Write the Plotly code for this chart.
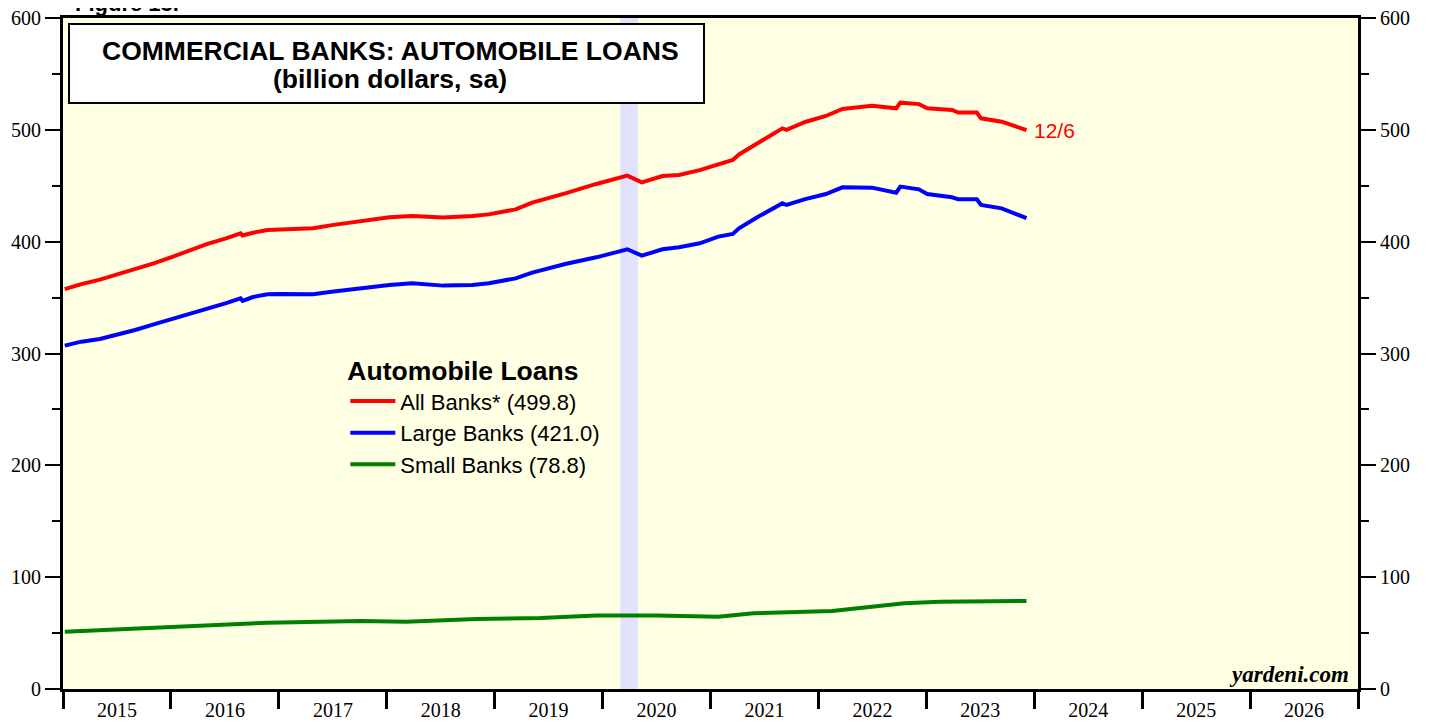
import plotly.graph_objects as go

# ---------------- data ----------------
all_dates = ["2015-01-07","2015-03-04","2015-05-06","2015-07-01","2015-09-02","2015-11-04",
             "2016-01-06","2016-03-02","2016-05-04","2016-07-06","2016-08-24","2016-08-31",
             "2016-10-05","2016-11-23","2017-01-04","2017-04-05","2017-04-26","2017-07-05",
             "2017-10-04","2018-01-10","2018-03-28","2018-07-11","2018-10-17","2018-12-12",
             "2019-03-13","2019-05-08","2019-08-28","2019-12-11","2020-03-25","2020-05-13",
             "2020-07-22","2020-09-16","2020-11-25","2021-01-27","2021-03-17","2021-04-07",
             "2021-06-09","2021-09-01","2021-09-15","2021-11-17","2022-01-26","2022-03-23",
             "2022-07-01","2022-09-21","2022-10-05","2022-12-07","2023-01-04","2023-03-29",
             "2023-04-19","2023-06-21","2023-07-05","2023-09-13","2023-12-06"]

all_banks = [357.5, 362.0, 366.0, 370.5, 375.0, 380.5,
             386.5, 392.0, 398.0, 403.0, 407.5, 405.5,
             408.0, 410.4, 411.0, 412.5, 412.0, 415.0,
             418.5, 421.8, 423.0, 421.5, 423.0, 424.4,
             428.9, 434.9, 443.2, 451.6, 459.0, 453.0,
             458.7, 459.6, 464.0, 469.5, 473.0, 478.0,
             488.0, 501.3, 500.0, 507.0, 512.4, 518.7,
             521.6, 519.2, 524.3, 523.0, 519.2, 517.8,
             515.4, 515.4, 510.3, 507.3, 499.8]

large_banks = [307.0, 310.6, 313.0, 316.5, 321.0, 326.0,
               330.8, 335.0, 340.0, 345.0, 349.4, 347.0,
               350.5, 353.0, 353.2, 353.5, 353.0, 355.5,
               358.5, 361.3, 362.8, 360.7, 361.3, 362.8,
               367.2, 372.3, 380.0, 386.0, 393.2, 387.5,
               393.2, 395.0, 398.5, 404.5, 406.9, 411.9,
               422.0, 434.3, 432.8, 438.0, 442.6, 448.6,
               448.3, 443.8, 449.2, 446.8, 442.6, 439.7,
               437.9, 437.9, 432.8, 429.8, 421.0]

small_dates = ["2015-01-07","2015-06-03","2016-01-06","2016-03-16","2016-11-23","2017-10-04",
               "2018-03-07","2018-10-31","2019-06-05","2019-12-11","2020-03-25","2020-07-01",
               "2021-01-27","2021-05-26","2022-02-16","2022-07-01","2022-10-19","2023-02-15",
               "2023-12-06"]
small_banks = [51.2, 53.0, 55.8, 56.6, 59.3, 60.8,
               60.2, 62.6, 63.5, 65.8, 66.2, 65.8,
               64.7, 67.8, 69.7, 73.5, 76.6, 78.1,
               78.8]

series_names = ["All Banks* (499.8)", "Large Banks (421.0)", "Small Banks (78.8)"]
recession = ("2020-03-01", "2020-04-30")
last_label = "12/6"
title_lines = ["COMMERCIAL BANKS: AUTOMOBILE LOANS", "(billion dollars, sa)"]

# ---------------- figure ----------------
fig = go.Figure()
fig.add_trace(go.Scatter(x=all_dates, y=all_banks, name=series_names[0], mode="lines",
                         line=dict(color="#FF0000", width=4)))
fig.add_trace(go.Scatter(x=all_dates, y=large_banks, name=series_names[1], mode="lines",
                         line=dict(color="#0000FF", width=4)))
fig.add_trace(go.Scatter(x=small_dates, y=small_banks, name=series_names[2], mode="lines",
                         line=dict(color="#008000", width=4)))
# invisible trace so the right axis is drawn
fig.add_trace(go.Scatter(x=[all_dates[0]], y=[0], yaxis="y2", mode="markers",
                         marker=dict(opacity=0), showlegend=False, hoverinfo="skip"))

fig.add_vrect(x0=recession[0], x1=recession[1], fillcolor="#E2E2FF", line_width=0,
              layer="below")

serif = "Liberation Serif, Times New Roman, serif"
sans = "Liberation Sans, Arial, sans-serif"

yax = dict(range=[0, 600], dtick=100, tick0=0, showgrid=False, zeroline=False,
           ticks="outside", ticklen=15, tickwidth=2, tickcolor="black",
           tickfont=dict(family=serif, size=20, color="black"),
           minor=dict(dtick=50, ticks="outside", ticklen=8, tickwidth=2, tickcolor="black"),
           showline=True, linewidth=3, linecolor="black", fixedrange=True,
           automargin=False, ticklabeloverflow="allow")

# page has an 8px body margin, so the figure is sized/offset to compensate
fig.update_layout(
    width=1423, height=717,
    margin=dict(l=55, r=73, t=10, b=36, autoexpand=False),
    paper_bgcolor="white", plot_bgcolor="#FFFFE3",
    xaxis=dict(type="date", range=["2015-01-01", "2027-01-01"], tick0="2015-01-01",
               dtick="M12", tickformat="%Y", ticklabelmode="period",
               ticks="outside", ticklen=17, tickwidth=3, tickcolor="black",
               ticklabelstandoff=-16, automargin=False, ticklabeloverflow="allow",
               tickfont=dict(family=serif, size=20, color="black"),
               showgrid=False, zeroline=False, showline=True, linewidth=3,
               linecolor="black", mirror=True),
    yaxis=dict(**yax, side="left", mirror=True),
    yaxis2=dict(**yax, side="right", overlaying="y"),
    showlegend=True,
    legend=dict(x=0.218, y=0.5115, xanchor="left", yanchor="top",
                bgcolor="rgba(0,0,0,0)", borderwidth=0,
                font=dict(family=sans, size=22, color="black"),
                title=dict(text="<b>Automobile Loans</b>",
                           font=dict(family=sans, size=26.5, color="black")),
                itemwidth=45, tracegroupgap=0),
)

# title box
fig.add_shape(type="rect", xref="paper", yref="paper",
              x0=(69 - 63) / 1295, x1=(704 - 63) / 1295,
              y0=(689 - 103) / 671, y1=(689 - 24) / 671,
              line=dict(color="black", width=2), fillcolor="white", layer="above")
for line_text, py in zip(title_lines, [51, 79]):
    fig.add_annotation(text="<b>" + line_text + "</b>",
                       xref="paper", yref="paper", x=(390 - 63) / 1295, y=(689 - py) / 671,
                       xanchor="center", yanchor="middle", showarrow=False,
                       font=dict(family=sans, size=26.5, color="black"))

# end label
fig.add_annotation(text=last_label, x=all_dates[-1], y=all_banks[-1], xanchor="left",
                   yanchor="middle", xshift=6, showarrow=False,
                   font=dict(family=sans, size=21, color="#FF0000"))

# source
fig.add_annotation(text="<b><i>yardeni.com</i></b>", xref="paper", yref="paper",
                   x=(1351 - 63) / 1295, y=(689 - 674) / 671, xanchor="right",
                   yanchor="middle", showarrow=False,
                   font=dict(family=serif, size=23, color="black"))

# figure label (cut at top, as in the source)
fig.add_annotation(text="<b>Figure 13.</b>", xref="paper", yref="paper",
                   x=(73 - 63) / 1295, y=(689 - 18) / 671, xanchor="left",
                   yanchor="bottom", showarrow=False,
                   font=dict(family=sans, size=22, color="black"))

fig.write_html("out.html")
